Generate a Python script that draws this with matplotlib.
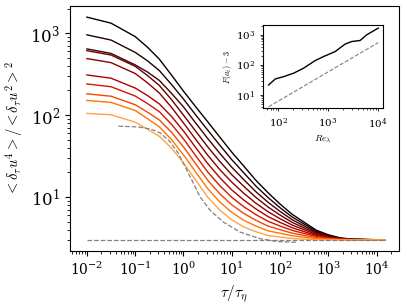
import numpy as np
import matplotlib
matplotlib.use('Agg')
import matplotlib.pyplot as plt

plt.rcParams['font.family'] = 'DejaVu Serif'
plt.rcParams['mathtext.fontset'] = 'cm'

# log10(tau/tau_eta) sample points
lx = [-2, -1.5, -1, -0.75, -0.5, -0.25, 0, 0.25, 0.5, 0.75, 1, 1.25, 1.5, 1.75,
      2, 2.25, 2.5, 2.75, 3, 3.25, 3.5, 4.17]
tau = 10 ** np.array(lx)

# flatness curves, top (black) to bottom (light orange)
F0 = [1570, 1325, 908, 678, 482, 309, 196, 127, 83.2, 54.1, 35.3, 23.8, 16.0, 11.3,
      8.21, 6.16, 4.92, 3.94, 3.46, 3.17, 3.06, 3.0]
F1 = [955, 824, 583, 462, 350, 237, 157, 101, 65.8, 43.1, 28.6, 19.7, 13.6, 9.89,
      7.40, 5.71, 4.67, 3.82, 3.40, 3.14, 3.05, 3.0]
F2 = [643, 566, 410, 337, 265, 185, 126, 80.4, 52.0, 34.3, 23.1, 16.3, 11.6, 8.65,
      6.68, 5.29, 4.43, 3.71, 3.35, 3.12, 3.04, 3.0]
F3 = [612, 541, 394, 306, 230, 155, 100, 64.0, 41.1, 27.3, 18.7, 13.5, 9.89, 7.57,
      6.03, 4.91, 4.20, 3.60, 3.30, 3.10, 3.03, 3.0]
F4 = [490, 437, 322, 249, 186, 125, 80.2, 50.9, 32.5, 21.7, 15.2, 11.1, 8.41, 6.62,
      5.44, 4.55, 3.99, 3.49, 3.24, 3.08, 3.03, 3.0]
F5 = [309, 282, 214, 174, 137, 96.6, 64.0, 40.4, 25.7, 17.3, 12.2, 9.18, 7.16, 5.78,
      4.90, 4.22, 3.78, 3.39, 3.20, 3.08, 3.03, 3.0]
F6 = [240, 222, 171, 139, 110, 77.4, 51.2, 32.1, 20.3, 13.8, 9.91, 7.60, 6.10, 5.06,
      4.43, 3.92, 3.59, 3.30, 3.15, 3.05, 3.02, 3.0]
F7 = [182, 170, 134, 109, 87.3, 61.9, 40.8, 25.6, 16.1, 11.0, 8.04, 6.30, 5.20, 4.43,
      3.99, 3.63, 3.40, 3.20, 3.10, 3.03, 3.01, 3.0]
F8 = [151, 143, 114, 90.8, 71.9, 50.5, 32.7, 20.3, 12.7, 8.73, 6.50, 5.20, 4.43, 3.87,
      3.61, 3.37, 3.23, 3.11, 3.05, 3.02, 3.01, 3.0]
F9 = [105, 101, 82, 67.4, 55.1, 39.7, 26.1, 16.2, 10.0, 6.95, 5.26, 4.31, 3.77, 3.39,
      3.25, 3.12, 3.06, 3.02, 3.0, 3.0, 3.0, 3.0]
curves = [F0, F1, F2, F3, F4, F5, F6, F7, F8, F9]

# gray dashed reference curve
tau_ref = 10 ** np.array([-1.346, -0.965, -0.689, -0.482, -0.275, -0.104, 0.035, 0.174,
                          0.346, 0.553, 0.828, 1.174, 1.588, 1.934, 2.278, 2.36])
F_ref = [73.3, 71.9, 67.9, 60.7, 47.1, 34.0, 23.3, 16.0, 10.0, 6.87, 4.94, 3.73,
         3.10, 2.87, 2.81, 2.81]

gauss_x = [1e-2, 10 ** 4.17]
gauss_y = [3, 3]

# inset data
Re = 10 ** np.array([1.806, 1.94, 2.106, 2.306, 2.506, 2.74, 2.906, 3.14, 3.34, 3.474, 3.64, 3.774, 4.006])
Fa = [21.5, 34.1, 40.7, 52.9, 77.6, 139, 189, 277, 490, 598, 646, 1000, 1670]
Re_fit = [10 ** 1.806, 10 ** 4.006]
Fa_fit = [4.07, 553]

fig = plt.figure(figsize=(4.07, 3.07), dpi=100)
ax = fig.add_axes([0.172, 0.182, 0.808, 0.798])

colors = plt.cm.gist_heat(np.linspace(0, 0.82, len(curves)))
for c, F in zip(colors, curves):
    ax.plot(tau, F, color=c, lw=1.0)
ax.plot(tau_ref, F_ref, '--', color='gray', lw=0.9)
ax.plot(gauss_x, gauss_y, '--', color='gray', lw=0.9)

ax.set_xscale('log'); ax.set_yscale('log')
ax.set_xlim(10 ** -2.35, 10 ** 4.46)
ax.set_ylim(10 ** 0.34, 10 ** 3.33)
ax.set_xticks([1e-2, 1e-1, 1, 1e1, 1e2, 1e3, 1e4])
ax.tick_params(axis='x', labelsize=10)
ax.tick_params(axis='y', labelsize=12)
ax.set_xlabel(r'$\tau/\tau_\eta$', fontsize=11)
ax.set_ylabel(r'$<\delta_\tau u^4>/<\delta_\tau u^2>^2$', fontsize=10.5)

# inset
ins = fig.add_axes([0.647, 0.647, 0.294, 0.272])
ins.plot(Re, Fa, color='black', lw=1.0)
ins.plot(Re_fit, Fa_fit, '--', color='gray', lw=0.8)
ins.set_xscale('log'); ins.set_yscale('log')
ins.set_xlim(10 ** 1.7, 10 ** 4.1)
ins.set_ylim(10 ** 0.556, 10 ** 3.33)
ins.tick_params(labelsize=7.5, length=2.5, width=0.6)
ins.tick_params(which='minor', length=1.5, width=0.5)
ins.set_xlabel(r'$Re_\lambda$', fontsize=7, labelpad=1)
ins.set_ylabel(r'$F(a_i)-3$', fontsize=6, labelpad=1)

fig.savefig('out.png', dpi=100)
